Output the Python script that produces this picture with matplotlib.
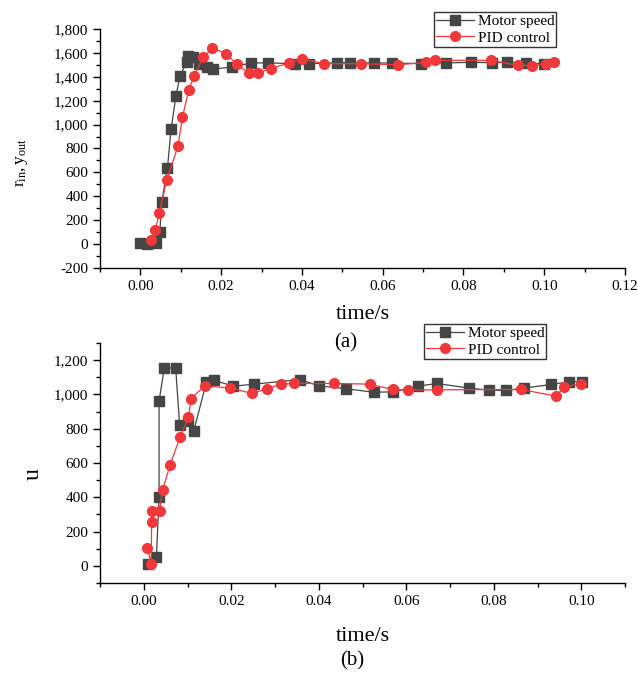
import matplotlib
matplotlib.use("Agg")
import matplotlib.pyplot as plt
from matplotlib.ticker import MultipleLocator, FuncFormatter, FormatStrFormatter

plt.rcParams['font.family'] = ['Liberation Serif', 'DejaVu Serif']
plt.rcParams['mathtext.fontset'] = 'custom'
plt.rcParams['mathtext.rm'] = 'Liberation Serif'
plt.rcParams['mathtext.it'] = 'Liberation Serif'

# (a) speed response
a_motor_t = [0.0000, 0.0017, 0.0038, 0.0048, 0.0053, 0.0067, 0.0076, 0.0088, 0.0098, 0.0115,
             0.0117, 0.0130, 0.0144, 0.0164, 0.0181, 0.0226, 0.0273, 0.0317, 0.0383, 0.0418,
             0.0488, 0.0520, 0.0579, 0.0622, 0.0695, 0.0756, 0.0818, 0.0871, 0.0907, 0.0954, 0.1000]
a_motor_v = [10, 5, 10, 102, 350, 638, 961, 1237, 1410, 1521,
             1577, 1563, 1508, 1480, 1466, 1480, 1516, 1516, 1510, 1510,
             1516, 1516, 1516, 1516, 1510, 1516, 1521, 1518, 1521, 1518, 1508]
a_pid_t = [0.0026, 0.0037, 0.0047, 0.0065, 0.0093, 0.0104, 0.0120, 0.0133, 0.0156, 0.0178,
           0.0212, 0.0239, 0.0268, 0.0292, 0.0323, 0.0368, 0.0401, 0.0454, 0.0547, 0.0637,
           0.0708, 0.0730, 0.0867, 0.0935, 0.0970, 0.1004, 0.1023]
a_pid_v = [32, 121, 261, 534, 818, 1061, 1290, 1407, 1566, 1639,
           1594, 1505, 1433, 1433, 1469, 1516, 1550, 1510, 1510, 1500,
           1521, 1538, 1538, 1496, 1494, 1510, 1525]

# (b) control signal
b_motor_t = [0.0009, 0.0029, 0.0035, 0.0035, 0.0047, 0.0073, 0.0082, 0.0101, 0.0114, 0.0143,
             0.0160, 0.0205, 0.0253, 0.0356, 0.0401, 0.0462, 0.0526, 0.0569, 0.0626, 0.0670,
             0.0743, 0.0789, 0.0827, 0.0870, 0.0931, 0.0973, 0.1002]
b_motor_v = [10, 53, 403, 961, 1157, 1153, 821, 846, 784, 1070,
             1083, 1048, 1060, 1087, 1050, 1033, 1013, 1015, 1048, 1064,
             1037, 1025, 1023, 1037, 1058, 1074, 1074]
b_pid_t = [0.0008, 0.0017, 0.0018, 0.0019, 0.0036, 0.0043, 0.0060, 0.0083, 0.0102, 0.0108,
           0.0139, 0.0198, 0.0247, 0.0282, 0.0314, 0.0344, 0.0435, 0.0516, 0.0569, 0.0603,
           0.0670, 0.0862, 0.0943, 0.0960, 0.1000]
b_pid_v = [107, 10, 253, 319, 319, 440, 588, 751, 866, 974,
           1050, 1037, 1006, 1033, 1060, 1064, 1064, 1060, 1029, 1025,
           1027, 1029, 990, 1044, 1062]

labels = ['Motor speed', 'PID control']
black = '#454545'
red = '#f0373a'

W, H = 638, 673
fig = plt.figure(figsize=(W / 100, H / 100), dpi=100)

def axes_px(l, t, r, b):
    return fig.add_axes([l / W, 1 - b / H, (r - l) / W, (b - t) / H])

ax1 = axes_px(100, 29, 625, 268)
ax2 = axes_px(100, 343, 625, 583)

thou = FuncFormatter(lambda v, p: f"{v:,.0f}")

def style(ax):
    for s in ['top', 'right']:
        ax.spines[s].set_visible(False)
    for s in ['left', 'bottom']:
        ax.spines[s].set_linewidth(1.0)
        ax.spines[s].set_color('black')
    ax.tick_params(which='major', direction='out', length=5, width=1, labelsize=11)
    ax.tick_params(which='minor', direction='out', length=3, width=1)
    ax.xaxis.set_major_formatter(FormatStrFormatter('%.2f'))
    ax.yaxis.set_major_formatter(thou)

def draw(ax, mt, mv, pt, pv):
    ax.plot(mt, mv, color=black, lw=0.9, marker='s', ms=6.5, mfc=black, mec=black, label=labels[0])
    ax.plot(pt, pv, color=red, lw=0.9, marker='o', ms=7, mfc=red, mec=red, label=labels[1])

draw(ax1, a_motor_t, a_motor_v, a_pid_t, a_pid_v)
ax1.set_xlim(-0.01, 0.12)
ax1.set_ylim(-200, 1800)
ax1.xaxis.set_major_locator(MultipleLocator(0.02))
ax1.xaxis.set_minor_locator(MultipleLocator(0.01))
ax1.yaxis.set_major_locator(MultipleLocator(200))
ax1.yaxis.set_minor_locator(MultipleLocator(100))
style(ax1)
ax1.set_xlabel('time/s', fontsize=16, labelpad=9)
ax1.set_ylabel(r'$\mathregular{r_{in},y_{out}}$', fontsize=12.5)
ax1.yaxis.set_label_coords(-0.133, 0.443)

draw(ax2, b_motor_t, b_motor_v, b_pid_t, b_pid_v)
ax2.set_xlim(-0.01, 0.11)
ax2.set_ylim(-100, 1300)
ax2.xaxis.set_major_locator(MultipleLocator(0.02))
ax2.xaxis.set_minor_locator(MultipleLocator(0.01))
ax2.yaxis.set_major_locator(MultipleLocator(200))
ax2.yaxis.set_minor_locator(MultipleLocator(100))
style(ax2)
ax2.set_xlabel('time/s', fontsize=16, labelpad=14)
ax2.set_ylabel('u', fontsize=17)
ax2.yaxis.set_label_coords(-0.108, 0.454)

leg_kw = dict(loc='upper left', frameon=True, fancybox=False, fontsize=11,
              borderpad=0.15, labelspacing=0.2, handlelength=2.5, handletextpad=0.2,
              borderaxespad=0)
l1 = ax1.legend(bbox_to_anchor=(434 / W, 1 - 12 / H), bbox_transform=fig.transFigure, **leg_kw)
l2 = ax2.legend(bbox_to_anchor=(424 / W, 1 - 324 / H), bbox_transform=fig.transFigure, **leg_kw)
for l in (l1, l2):
    l.get_frame().set_edgecolor('black')
    l.get_frame().set_linewidth(1.0)

fig.text(346 / W, 1 - 343 / H, '(a)', fontsize=15, ha='center', va='center')
fig.text(352 / W, 1 - 661 / H, '(b)', fontsize=15, ha='center', va='center')

fig.savefig('out.png', dpi=100)
